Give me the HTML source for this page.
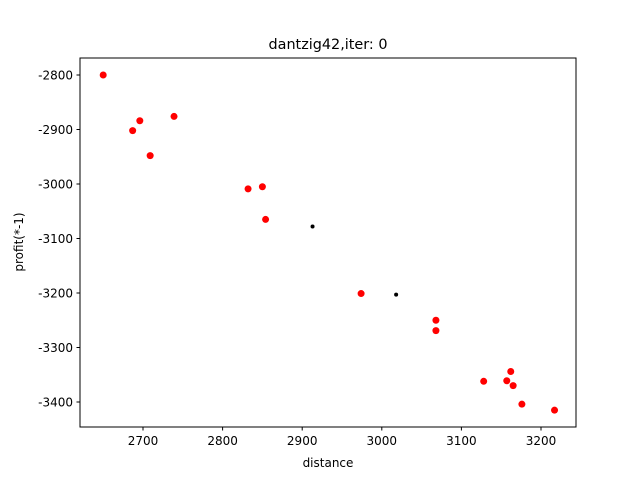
<!DOCTYPE html>
<html><head><meta charset="utf-8"><style>body{margin:0;background:#fff}svg{font-family:"DejaVu Sans","Liberation Sans",sans-serif}</style></head>
<body>
<svg id="c" width="640" height="480">
<rect x="0" y="0" width="640" height="480" fill="#fff"/>
<text x="328" y="49" font-size="14.4" text-anchor="middle">dantzig42,iter: 0</text>
<g id="plot"></g>
<rect x="80" y="58" width="496" height="369" fill="none" stroke="#000" stroke-width="1"/>
<text x="328" y="467" font-size="12" text-anchor="middle">distance</text>
<text x="23" y="242" font-size="12" text-anchor="middle" transform="rotate(-90 23 242)">profit(*-1)</text>
</svg>
<script>
const redX=[2650,2687,2696,2709,2739,2832,2850,2854,2974,3068,3068,3128,3157,3162,3165,3176,3217];
const redY=[-2800,-2902,-2884,-2948,-2876,-3009,-3005,-3065,-3201,-3250,-3269,-3362,-3361,-3344,-3370,-3404,-3415];
const blackX=[2913,3018];
const blackY=[-3078,-3203];
const xTicks=[2700,2800,2900,3000,3100,3200];
const yTicks=[-2800,-2900,-3000,-3100,-3200,-3300,-3400];
const sx=v=>143+(v-2700)*0.796;
const sy=v=>75+(-2800-v)*0.545;
const NS="http://www.w3.org/2000/svg";
const g=document.getElementById('plot');
function mk(t,a){const e=document.createElementNS(NS,t);for(const k in a)e.setAttribute(k,a[k]);g.appendChild(e);return e;}
xTicks.forEach(v=>{
 const l=mk('line',{x1:sx(v),x2:sx(v),y1:427,y2:430.5,stroke:'#000'});
 
 
 const t=mk('text',{x:sx(v),y:445,'font-size':12,'text-anchor':'middle'});t.textContent=v;
 
 
});
yTicks.forEach(v=>{
 const l=mk('line',{x1:76.5,x2:80,y1:sy(v),y2:sy(v),stroke:'#000'});
 
 
 const t=mk('text',{x:73,y:sy(v)+4.5,'font-size':12,'text-anchor':'end'});t.textContent=v;
 
 
});
redX.forEach((v,i)=>{
 const c=mk('circle',{cx:sx(v),cy:sy(redY[i]),r:3.5,fill:'#f00'});
 
 
});
blackX.forEach((v,i)=>{
 const c=mk('circle',{cx:sx(v),cy:sy(blackY[i]),r:2,fill:'#000'});
 
 
});
</script>
</body></html>
